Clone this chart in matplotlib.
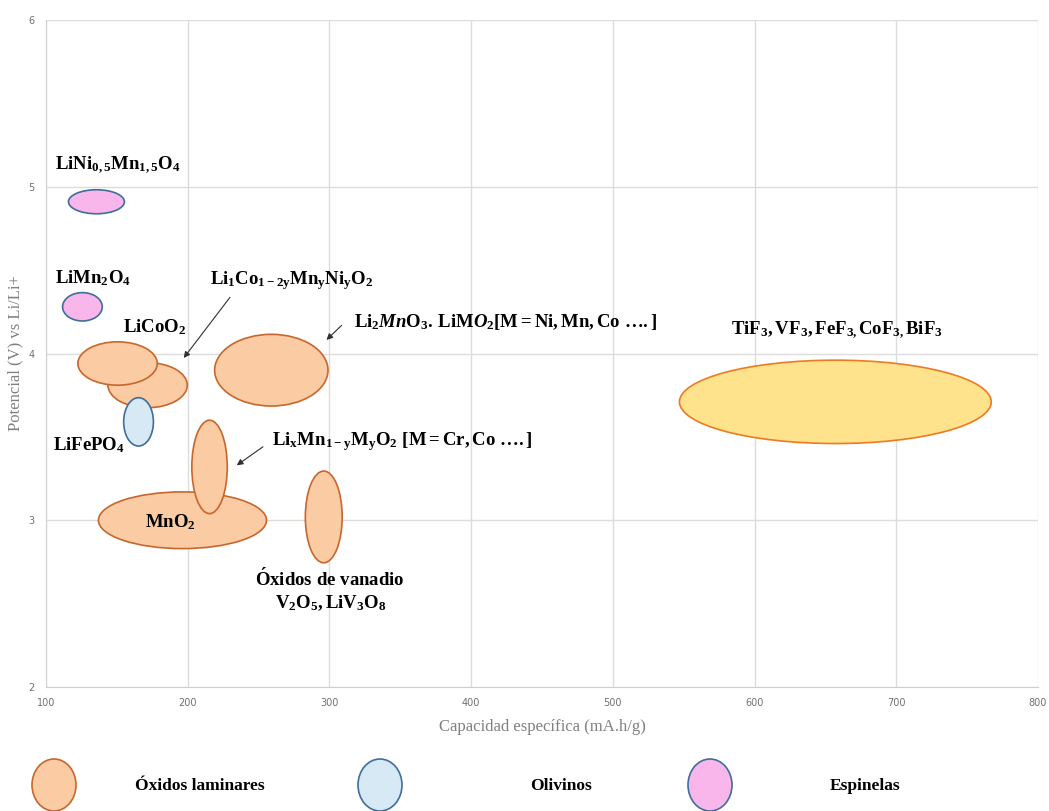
import matplotlib
matplotlib.use('Agg')
import matplotlib.pyplot as plt
from matplotlib.patches import Ellipse

plt.rcParams['mathtext.fontset'] = 'custom'
plt.rcParams['mathtext.rm'] = 'Liberation Serif:bold'
plt.rcParams['mathtext.it'] = 'Liberation Serif:bold:italic'
plt.rcParams['mathtext.bf'] = 'Liberation Serif:bold'

# datos: centro (capacidad, potencial), ancho, alto, familia
nombres = ['LiNi0.5Mn1.5O4', 'LiMn2O4', 'LiCoMnNi', 'LiCoO2', 'LiFePO4', 'Li2MnO3',
           'MnO2', 'LixMnMO2', 'V2O5', 'Fluoruros']
cap_x = [135.6, 125.7, 171.7, 150.5, 165.3, 259.0, 196.3, 215.4, 296.0, 657.0]
pot_y = [4.91, 4.28, 3.81, 3.94, 3.59, 3.90, 3.00, 3.32, 3.02, 3.71]
ancho = [39.5, 28.0, 56.0, 56.0, 21.0, 80.0, 118.6, 25.0, 26.0, 220.0]
alto = [0.144, 0.17, 0.27, 0.26, 0.29, 0.43, 0.34, 0.56, 0.55, 0.50]
tipo = ['esp', 'esp', 'lam', 'lam', 'oli', 'lam', 'lam', 'lam', 'lam', 'flu']

estilos = {
    'lam': ('#FBCBA3', '#C9662C'),
    'oli': ('#D8E9F6', '#3F6E9A'),
    'esp': ('#F9B6EA', '#3F6E9A'),
    'flu': ('#FFE38C', '#EE7A22'),
}

fig = plt.figure(figsize=(10.49, 8.11), dpi=100)
ax = fig.add_axes([46 / 1049, 124 / 811, 992 / 1049, 667 / 811])
ax.set_xlim(100, 800)
ax.set_ylim(2, 6)
ax.set_xticks(range(100, 801, 100))
ax.set_yticks([2, 3, 4, 5, 6])
ax.grid(True, color='#DCDCDC', lw=1)
ax.set_axisbelow(True)
for s in ['top', 'right']:
    ax.spines[s].set_visible(False)
for s in ['left', 'bottom']:
    ax.spines[s].set_color('#D0D0D0')
ax.tick_params(length=0, labelsize=7, labelcolor='#707070', pad=8)
for lb in ax.get_xticklabels() + ax.get_yticklabels():
    lb.set_family('Liberation Sans Narrow')

ax.set_xlabel('Capacidad específica (mA.h/g)', family='Liberation Serif', fontsize=12,
              color='#808080', labelpad=8)
ax.set_ylabel('Potencial (V) vs Li/Li+', family='Liberation Serif', fontsize=12,
              color='#808080', labelpad=4)

for x, y, w, h, t in zip(cap_x, pot_y, ancho, alto, tipo):
    fc, ec = estilos[t]
    ax.add_patch(Ellipse((x, y), w, h, facecolor=fc, edgecolor=ec, lw=1.2, zorder=3))

fs = 13.5
txt = dict(fontsize=fs, zorder=5, va='center')
ax.text(106.7, 5.13, r'$\mathrm{LiNi_{0,5}Mn_{1,5}O_4}$', **txt)
ax.text(106.7, 4.45, r'$\mathrm{LiMn_2O_4}$', **txt)
ax.text(154, 4.16, r'$\mathrm{LiCoO_2}$', **txt)
ax.text(105, 3.45, r'$\mathrm{LiFePO_4}$', **txt)
ax.text(216, 4.44, r'$\mathrm{Li_1Co_{1-2y}Mn_yNi_yO_2}$', **txt)
ax.text(317, 4.19, r'$\mathrm{Li_2}\mathit{Mn}\mathrm{O_3.\,LiM}\mathit{O_2}\mathrm{[M = Ni, Mn, Co\ \ldots .]}$', **txt)
ax.text(259.7, 3.47, r'$\mathrm{Li_xMn_{1-y}M_yO_2\ [M = Cr, Co\ \ldots .]}$', **txt)
ax.text(188, 2.99, r'$\mathrm{MnO_2}$', ha='center', **txt)
ax.text(300.6, 2.65, r'$\mathrm{\acute{O}xidos\ de\ vanadio}$', ha='center', **txt)
ax.text(300.6, 2.50, r'$\mathrm{V_2O_5, LiV_3O_8}$', ha='center', **txt)
ax.text(657.8, 4.14, r'$\mathrm{TiF_3, VF_3, FeF_{3,}CoF_{3,}BiF_3}$', ha='center', **txt)

flecha = dict(arrowstyle='-|>', color='#303030', lw=0.8, mutation_scale=9)
ax.annotate('', xy=(196, 3.96), xytext=(231, 4.35), arrowprops=flecha, zorder=5)
ax.annotate('', xy=(296.5, 4.07), xytext=(310, 4.18), arrowprops=flecha, zorder=5)
ax.annotate('', xy=(233, 3.32), xytext=(254.7, 3.45), arrowprops=flecha, zorder=5)

# leyenda
leyenda = [('Óxidos laminares', 'lam', 54, 135), ('Olivinos', 'oli', 380, 530),
           ('Espinelas', 'esp', 710, 830)]
for nombre, t, xe, xt in leyenda:
    fc, ec = estilos[t]
    fig.add_artist(Ellipse((xe / 1049, 1 - 785 / 811), 44 / 1049, 52 / 811,
                           transform=fig.transFigure, facecolor=fc, edgecolor=ec, lw=1.2))
    fig.text(xt / 1049, 1 - 786 / 811, nombre, family='Liberation Serif', weight='bold',
             fontsize=12.5, va='center')

fig.savefig('out.png', dpi=100)
